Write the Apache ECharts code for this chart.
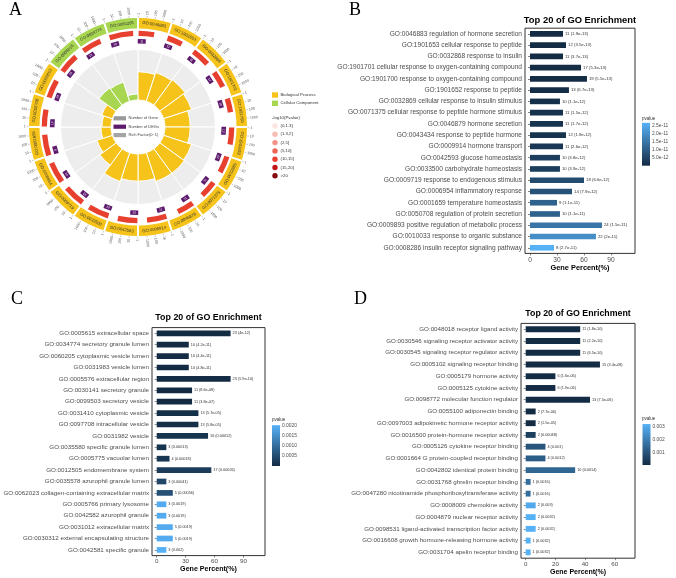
<!DOCTYPE html>
<html><head><meta charset="utf-8">
<script src="https://cdn.jsdelivr.net/npm/echarts@6/dist/echarts.min.js"></script>
<style>html,body{margin:0;padding:0;background:#fff}#c{width:676px;height:578px}</style>
</head><body><div id="c"></div>
<script>
// ---------------- Panel A data ----------------
const goIdsA = ['GO:0046883','GO:1901653','GO:0032868','GO:1901701','GO:1901700','GO:1901652','GO:0032869','GO:0071375','GO:0046879','GO:0009914','GO:0042593','GO:0033500','GO:0009719','GO:0006954','GO:0001659','GO:0050708','GO:0009893','GO:0005615','GO:0034774','GO:0060205'];
const goTypeA = ['Biological Process','Biological Process','Biological Process','Biological Process','Biological Process','Biological Process','Biological Process','Biological Process','Biological Process','Biological Process','Biological Process','Biological Process','Biological Process','Biological Process','Biological Process','Biological Process','Biological Process','Cellular Component','Cellular Component','Cellular Component'];
const richFactorA = [0.56,0.6,0.62,0.58,0.5,0.5,0.58,0.6,0.6,0.54,0.54,0.6,0.4,0.32,0.2,0.18,0.22,0.42,0.4,0.12];
const geneNumA = [160,152,402,248,98,255,262,240,258,640,618,1010,985,1020,990,247,395,650,612,2480];
const degNumA = [11,12,11,17,19,13,10,11,11,11,10,10,18,14,9,10,24,23,10,10];
const pvalueA = [1.9e-13,3.5e-13,3.7e-13,5.3e-13,5.5e-13,6.7e-13,1.1e-12,1.5e-12,1.7e-12,2.6e-12,3.8e-12,3.9e-12,6.6e-12,7.9e-12,1.1e-11,1.1e-11,1.5e-11,4e-12,4.2e-11,4.4e-11];
const axisTicksA = [1,10,100,1000];
const axisMaxA = 10000;
const typeNamesA = ['Biological Process','Cellular Component'];
const pBinLabelsA = ['(0,1.3]','(1.3,2]','(2,5]','(5,10]','(10,15]','(15,20]','>20'];
const pBinEdgesA = [0,1.3,2,5,10,15,20];
const pBinColorsA = ['#FCE4E1','#F8BDB4','#F39385','#EC6556','#E8402F','#C0151B','#860A0E'];
const innerLegendA = ['Number of Gene','Number of DEGs','Rich Factor(0~1)'];

// ---------------- Panel B data ----------------
const termsB = ['GO:0046883 regulation of hormone secretion','GO:1901653 cellular response to peptide','GO:0032868 response to insulin','GO:1901701 cellular response to oxygen-containing compound','GO:1901700 response to oxygen-containing compound','GO:1901652 response to peptide','GO:0032869 cellular response to insulin stimulus','GO:0071375 cellular response to peptide hormone stimulus','GO:0046879 hormone secretion','GO:0043434 response to peptide hormone','GO:0009914 hormone transport','GO:0042593 glucose homeostasis','GO:0033500 carbohydrate homeostasis','GO:0009719 response to endogenous stimulus','GO:0006954 inflammatory response','GO:0001659 temperature homeostasis','GO:0050708 regulation of protein secretion','GO:0009893 positive regulation of metabolic process','GO:0010033 response to organic substance','GO:0008286 insulin receptor signaling pathway'];
const countsB = [11,12,11,17,19,13,10,11,11,12,11,10,10,18,14,9,10,24,22,8];
const percentB = [36.7,40,36.7,56.7,63.3,43.3,33.3,36.7,36.7,40,36.7,33.3,33.3,60,46.7,30,33.3,80,73.3,26.7];
const pvaluesB = [1.9e-13,3.5e-13,3.7e-13,5.3e-13,5.5e-13,6.7e-13,1.1e-12,1.5e-12,1.7e-12,1.9e-12,2.6e-12,3.8e-12,3.9e-12,6.6e-12,7.9e-12,1.1e-11,1.1e-11,1.5e-11,2e-11,2.7e-11];
const xTicksB = [0,30,60,90];
const legendTicksB = [5e-12,1e-11,1.5e-11,2e-11,2.5e-11];

// ---------------- Panel C data ----------------
const termsC = ['GO:0005615 extracellular space','GO:0034774 secretory granule lumen','GO:0060205 cytoplasmic vesicle lumen','GO:0031983 vesicle lumen','GO:0005576 extracellular region','GO:0030141 secretory granule','GO:0099503 secretory vesicle','GO:0031410 cytoplasmic vesicle','GO:0097708 intracellular vesicle','GO:0031982 vesicle','GO:0035580 specific granule lumen','GO:0005775 vacuolar lumen','GO:0012505 endomembrane system','GO:0035578 azurophil granule lumen','GO:0062023 collagen-containing extracellular matrix','GO:0005766 primary lysosome','GO:0042582 azurophil granule','GO:0031012 extracellular matrix','GO:0030312 external encapsulating structure','GO:0042581 specific granule'];
const countsC = [23,10,10,10,23,11,11,13,13,16,3,4,17,3,5,3,3,5,5,3];
const percentC = [76.7,33.3,33.3,33.3,76.7,36.7,36.7,43.3,43.3,53.3,10,13.3,56.7,10,16.7,10,10,16.7,16.7,10];
const pvaluesC = [4e-12,4.2e-11,4.4e-11,4.8e-11,5.9e-10,8.6e-8,3.8e-7,5.7e-5,5.8e-5,0.00012,0.00013,0.00018,0.00026,0.00041,0.00056,0.0019,0.0019,0.0019,0.0019,0.002];
const xTicksC = [0,30,60,90];
const legendTicksC = [0.0005,0.001,0.0015,0.002];

// ---------------- Panel D data ----------------
const termsD = ['GO:0048018 receptor ligand activity','GO:0030546 signaling receptor activator activity','GO:0030545 signaling receptor regulator activity','GO:0005102 signaling receptor binding','GO:0005179 hormone activity','GO:0005125 cytokine activity','GO:0098772 molecular function regulator','GO:0055100 adiponectin binding','GO:0097003 adipokinetic hormone receptor activity','GO:0016500 protein-hormone receptor activity','GO:0005126 cytokine receptor binding','GO:0001664 G protein-coupled receptor binding','GO:0042802 identical protein binding','GO:0031768 ghrelin receptor binding','GO:0047280 nicotinamide phosphoribosyltransferase activity','GO:0008009 chemokine activity','GO:0004879 nuclear receptor activity','GO:0098531 ligand-activated transcription factor activity','GO:0016608 growth hormone-releasing hormone activity','GO:0031704 apelin receptor binding'];
const countsD = [11,11,11,15,6,6,13,2,2,2,4,4,10,1,1,2,2,2,1,1];
const percentD = [36.7,36.7,36.7,50,20,20,43.3,6.7,6.7,6.7,13.3,13.3,33.3,3.3,3.3,6.7,6.7,6.7,3.3,3.3];
const pvaluesD = [1.8e-10,2.2e-10,6.5e-10,3.4e-8,1.6e-6,1.9e-6,7.5e-6,7.7e-6,1.5e-5,0.00048,0.001,0.0012,0.0014,0.0016,0.0016,0.003,0.0032,0.0032,0.0032,0.0032];
const xTicksD = [0,20,40,60];
const legendTicksD = [0.001,0.002,0.003];

const titleText = 'Top 20 of GO Enrichment';
const xName = 'Gene Percent(%)';

// ---------------- styles ----------------
const SANS = 'Liberation Sans';
const C_BP = '#F5C31A', C_CC = '#A8D650', C_GRAY = '#EDEDED', C_PURPLE = '#5E1B6E';
const LOW = '#132B43', HIGH = '#56B1F7';
const CENTER_A = [138, 127];
const R_PUR = 85.7, R_RED0 = 91, R_RED1 = 96.3, R_LAB0 = 98.5, R_LAB1 = 109, R_TICK = 109.6;

function fmtP(p){
  const v = Number(p.toPrecision(2));
  return v < 1e-4 ? v.toExponential().replace(/e-(\d)$/, 'e-0$1') : String(v);
}
function binColor(nlogp){
  let k = 0;
  for (let j = 0; j < pBinEdgesA.length; j++) if (nlogp > pBinEdgesA[j]) k = j;
  return pBinColorsA[k];
}

// polar helpers (all positions via api.coord of polar #1)
function ctr(api){ return api.coord([0, 0]); }
function angAt(api, a){ const c = api.coord([0, a]); const p = api.coord([100, a]); return Math.atan2(p[1]-c[1], p[0]-c[0]); }
function rPx(api, r){ const c = api.coord([0, 0]); const p = api.coord([r, 0]); return Math.hypot(p[0]-c[0], p[1]-c[1]); }
function sector(api, r0, r1, a0, a1){
  const c = ctr(api); const s = angAt(api, a0); let e = angAt(api, a1);
  while (e <= s) e += 2*Math.PI;
  return {cx:c[0], cy:c[1], r0:rPx(api,r0), r:rPx(api,r1), startAngle:s, endAngle:e, clockwise:true};
}

const series = [];
// 0 gray background (polar 0)
series.push({type:'bar', coordinateSystem:'polar', polarIndex:0, data: goIdsA.map(()=>1), barCategoryGap:'0%', barGap:'-100%',
  itemStyle:{color:C_GRAY, borderColor:'#fff', borderWidth:1}, silent:true, z:1});
// 1 rich factor bars
series.push({type:'bar', coordinateSystem:'polar', polarIndex:0, barCategoryGap:'0%', barGap:'-100%',
  data: richFactorA.map((v,i)=>({value:v, itemStyle:{color: goTypeA[i]===typeNamesA[0]?C_BP:C_CC}})),
  itemStyle:{borderColor:'#fff', borderWidth:1}, silent:true, z:2});
// 2 red arcs
series.push({type:'custom', coordinateSystem:'polar', polarIndex:1, silent:true,
  data: geneNumA.map((n,i)=>[i, n, -Math.log10(pvalueA[i])]),
  renderItem(params, api){
    const i = api.value(0), n = api.value(1), q = api.value(2);
    const f = Math.log10(n)/Math.log10(axisMaxA);
    return {type:'sector', shape: sector(api, R_RED0, R_RED1, i+0.02, i+0.02+f*0.96), style:{fill: binColor(q)}};
  }});
// 3 purple DEG boxes
series.push({type:'custom', coordinateSystem:'polar', polarIndex:1, silent:true,
  data: degNumA.map((n,i)=>[i, n]),
  renderItem(params, api){
    const i = api.value(0), n = api.value(1);
    const a = i + 0.14;
    const p = api.coord([R_PUR, a]); const phi = angAt(api, a);
    let rot = -(phi + Math.PI/2); if (Math.sin(phi) > 0.3) rot += Math.PI;
    return {type:'group', x:p[0], y:p[1], rotation:rot, children:[
      {type:'rect', shape:{x:-4, y:-2.3, width:8, height:4.6}, style:{fill:C_PURPLE}},
      {type:'text', style:{text:String(n), x:0, y:0, align:'center', verticalAlign:'middle', textAlign:'center', textVerticalAlign:'middle', fontSize:3, fontFamily:SANS, fill:'#fff'}}
    ]};
  }});
// 4 GO id ring
series.push({type:'custom', coordinateSystem:'polar', polarIndex:1, silent:true,
  data: goIdsA.map((g,i)=>[i, 0]),
  renderItem(params, api){
    const i = api.value(0);
    const col = goTypeA[i]===typeNamesA[0]?C_BP:C_CC;
    const a = i + 0.5; const p = api.coord([(R_LAB0+R_LAB1)/2, a]); const phi = angAt(api, a);
    let rot = -(phi + Math.PI/2); if (Math.sin(phi) > 0.3) rot += Math.PI;
    return {type:'group', children:[
      {type:'sector', shape: sector(api, R_LAB0, R_LAB1, i+0.03, i+0.97), style:{fill:col}},
      {type:'text', x:p[0], y:p[1], rotation:rot, style:{text:goIdsA[i], x:0, y:0, align:'center', verticalAlign:'middle', textAlign:'center', textVerticalAlign:'middle', fontSize:4.2, fontFamily:SANS, fill:'#333'}}
    ]};
  }});
// 5 per-segment log axis ticks
series.push({type:'custom', coordinateSystem:'polar', polarIndex:1, silent:true,
  data: goIdsA.map((g,i)=>[i, 0]),
  renderItem(params, api){
    const i = api.value(0); const children = [];
    axisTicksA.forEach(t => {
      const a = i + 0.02 + Math.log10(t)/Math.log10(axisMaxA)*0.96;
      const p0 = api.coord([R_TICK, a]), p1 = api.coord([R_TICK+1.8, a]), pt = api.coord([R_TICK+2.6, a]);
      const phi = angAt(api, a);
      children.push({type:'line', shape:{x1:p0[0], y1:p0[1], x2:p1[0], y2:p1[1]}, style:{stroke:'#777', lineWidth:0.4}});
      const left = Math.cos(phi) < -0.05;
      const rot = left ? (-phi + Math.PI) : -phi;
      children.push({type:'text', x:pt[0], y:pt[1], rotation:rot, style:{text:String(t), x:0, y:0, align: left?'right':'left', textAlign: left?'right':'left', verticalAlign:'middle', textVerticalAlign:'middle', fontSize:3.6, fontFamily:SANS, fill:'#555'}});
    });
    return {type:'group', children};
  }});

// bar series for B, C, D
function barSeries(idx, terms, pct, pv, cnt, fs){
  return {type:'bar', xAxisIndex:idx, yAxisIndex:idx, barWidth:'50%', encode:{x:0, y:1},
    data: terms.map((t,i)=>[pct[i], t, pv[i], cnt[i]]),
    label:{show:true, position:'right', distance:2, fontSize:fs, fontFamily:SANS, color:'#333',
      formatter: p => p.data[3] + ' (' + fmtP(p.data[2]) + ')'}};
}
series.push(barSeries(0, termsB, percentB, pvaluesB, countsB, 4.3)); // 6
series.push(barSeries(1, termsC, percentC, pvaluesC, countsC, 3.8)); // 7
series.push(barSeries(2, termsD, percentD, pvaluesD, countsD, 3.8)); // 8
// colorbars 9,10,11
function colorbar(idx, pv){
  return {type:'custom', xAxisIndex:idx, yAxisIndex:idx, silent:true, encode:{x:0, y:[1,2]},
    data:[[0, Math.min(...pv), Math.max(...pv)]],
    renderItem(params, api){
      const p0 = api.coord([0, api.value(1)]), p1 = api.coord([0, api.value(2)]);
      const w = api.size([1,0])[0];
      return {type:'rect', shape:{x:p0[0]-w/2, y:p1[1], width:w, height:p0[1]-p1[1]},
        style:{fill: new echarts.graphic.LinearGradient(0,0,0,1,[{offset:0,color:HIGH},{offset:1,color:LOW}])}};
    }};
}
series.push(colorbar(3, pvaluesB), colorbar(4, pvaluesC), colorbar(5, pvaluesD));

// layouts (px)
const gB = {left:525, top:28.2, width:110, height:225.2, min:-5.56, max:116.7};
const gC = {left:152, top:327.6, width:113, height:228, min:-4.88, max:112.4};
const gD = {left:521, top:323.4, width:114, height:234.8, min:-3.16, max:73.6};

function gridOf(g){ return {left:g.left, top:g.top, width:g.width, height:g.height, show:true, borderColor:'#333', borderWidth:1, backgroundColor:'transparent', containLabel:false}; }
function xAxisOf(idx, g, ticks, fs, nameFs){
  return {gridIndex:idx, type:'value', min:g.min, max:g.max, splitLine:{show:false}, axisLine:{show:false},
    axisTick:{show:true, length:2, customValues:ticks, lineStyle:{color:'#333', width:0.6}},
    axisLabel:{customValues:ticks, fontSize:fs, fontFamily:SANS, color:'#4D4D4D', margin:3},
    name:xName, nameLocation:'middle', nameGap:10, nameTextStyle:{fontSize:nameFs, fontWeight:'bold', fontFamily:SANS, color:'#000'}};
}
function yAxisOf(idx, terms, fs){
  return {gridIndex:idx, type:'category', data:terms, inverse:true, axisLine:{show:false},
    axisTick:{show:true, length:2, alignWithLabel:true, lineStyle:{color:'#333', width:0.6}},
    axisLabel:{fontSize:fs, fontFamily:SANS, color:'#4D4D4D', margin:3}, splitLine:{show:false}};
}
function cbGrid(left, top, height){ return {left, top, width:8, height, show:false}; }
function cbX(idx){ return {gridIndex:idx, type:'category', data:[''], show:false}; }
function cbY(idx, max, interval, ticks, fmt){
  return {gridIndex:idx, type:'value', min:0, max, interval, position:'right', axisLine:{show:false}, axisTick:{show:false}, splitLine:{show:false},
    axisLabel:{fontSize:4.9, fontFamily:SANS, color:'#4D4D4D', margin:2,
      formatter: v => ticks.some(t => Math.abs(t - v) < interval*1e-3) ? fmt(v) : ''}};
}

const graphics = [];
function txt(text, x, y, o){ graphics.push({type:'text', x, y, silent:true, style:Object.assign({text, fontFamily:SANS, fill:'#000', textAlign:'left', textVerticalAlign:'middle', align:'left', verticalAlign:'middle'}, o||{})}); }
// panel letters
txt('A', 9, 10, {fontFamily:'Liberation Serif', fontSize:18});
txt('B', 349, 10, {fontFamily:'Liberation Serif', fontSize:18});
txt('C', 11, 299, {fontFamily:'Liberation Serif', fontSize:18});
txt('D', 354, 299, {fontFamily:'Liberation Serif', fontSize:18});
// titles
txt(titleText, gB.left + gB.width/2, 20, {fontSize:9.4, fontWeight:'bold', textAlign:'center', align:'center'});
txt(titleText, gC.left + gC.width/2, 318, {fontSize:8.9, fontWeight:'bold', textAlign:'center', align:'center'});
txt(titleText, gD.left + gD.width/2, 314, {fontSize:8.8, fontWeight:'bold', textAlign:'center', align:'center'});
// colorbar titles
txt('pvalue', 642, 118.5, {fontSize:4.5, fill:'#333'});
txt('pvalue', 272, 419.5, {fontSize:4.5, fill:'#333'});
txt('pvalue', 642, 418.5, {fontSize:4.5, fill:'#333'});
// panel A inner legend
const innerCols = ['#9A9A9A', C_PURPLE, '#A5A5A5'];
innerLegendA.forEach((t,k)=>{
  const y = 118.3 + k*8.4;
  graphics.push({type:'rect', silent:true, shape:{x:113.5, y:y-2.1, width:12.5, height:4.2}, style:{fill:innerCols[k]}});
  txt(t, 128.5, y, {fontSize:4, fill:'#444'});
});
// panel A right legend
typeNamesA.forEach((t,k)=>{
  const y = 95 + k*8.3;
  graphics.push({type:'rect', silent:true, shape:{x:272, y:y-2.7, width:6, height:5.4}, style:{fill: k===0?C_BP:C_CC}});
  txt(t, 280.5, y, {fontSize:4.3, fill:'#333'});
});
txt('-log10(Pvalue)', 272, 117.5, {fontSize:4.3, fill:'#333'});
pBinLabelsA.forEach((t,k)=>{
  const y = 126 + k*8.3;
  graphics.push({type:'circle', silent:true, shape:{cx:275, cy:y, r:2.7}, style:{fill:pBinColorsA[k]}});
  txt(t, 280.5, y, {fontSize:4.3, fill:'#333'});
});

const option = {
  animation:false,
  backgroundColor:'#fff',
  textStyle:{fontFamily:SANS},
  polar:[{center:CENTER_A, radius:[27, 77.5]}, {center:CENTER_A, radius:[0, 111]}],
  angleAxis:[
    {polarIndex:0, type:'category', data:goIdsA, startAngle:90, clockwise:true, axisLine:{show:false}, axisTick:{show:false}, axisLabel:{show:false}, splitLine:{show:false}},
    {polarIndex:1, type:'value', min:0, max:20, startAngle:90, clockwise:true, axisLine:{show:false}, axisTick:{show:false}, axisLabel:{show:false}, splitLine:{show:false}}
  ],
  radiusAxis:[
    {polarIndex:0, type:'value', min:0, max:1, axisLine:{show:false}, axisTick:{show:false}, axisLabel:{show:false}, splitLine:{show:false}},
    {polarIndex:1, type:'value', min:0, max:111, axisLine:{show:false}, axisTick:{show:false}, axisLabel:{show:false}, splitLine:{show:false}}
  ],
  grid:[gridOf(gB), gridOf(gC), gridOf(gD),
    cbGrid(642, 118, 48), cbGrid(272, 421.1, 44.9), cbGrid(642.5, 420.2, 44.8)],
  xAxis:[xAxisOf(0,gB,xTicksB,6.6,7.4), xAxisOf(1,gC,xTicksC,6.25,7.1), xAxisOf(2,gD,xTicksD,6.2,7.0), cbX(3), cbX(4), cbX(5)],
  yAxis:[yAxisOf(0,termsB,6.6), yAxisOf(1,termsC,6.25), yAxisOf(2,termsD,6.2),
    cbY(3, 3e-11, 5e-12, legendTicksB, v=>v.toExponential(1)),
    cbY(4, 0.0022, 0.0005, legendTicksC, v=>v.toFixed(4)),
    cbY(5, 0.0035, 0.001, legendTicksD, v=>v.toFixed(3))],
  visualMap:[
    {type:'continuous', show:false, seriesIndex:6, dimension:2, min:Math.min(...pvaluesB), max:Math.max(...pvaluesB), inRange:{color:[LOW, HIGH]}},
    {type:'continuous', show:false, seriesIndex:7, dimension:2, min:Math.min(...pvaluesC), max:Math.max(...pvaluesC), inRange:{color:[LOW, HIGH]}},
    {type:'continuous', show:false, seriesIndex:8, dimension:2, min:Math.min(...pvaluesD), max:Math.max(...pvaluesD), inRange:{color:[LOW, HIGH]}}
  ],
  graphic:{elements:graphics},
  series
};
const chart = echarts.init(document.getElementById('c'), null, {renderer:'canvas'});
chart.setOption(option);
</script></body></html>
